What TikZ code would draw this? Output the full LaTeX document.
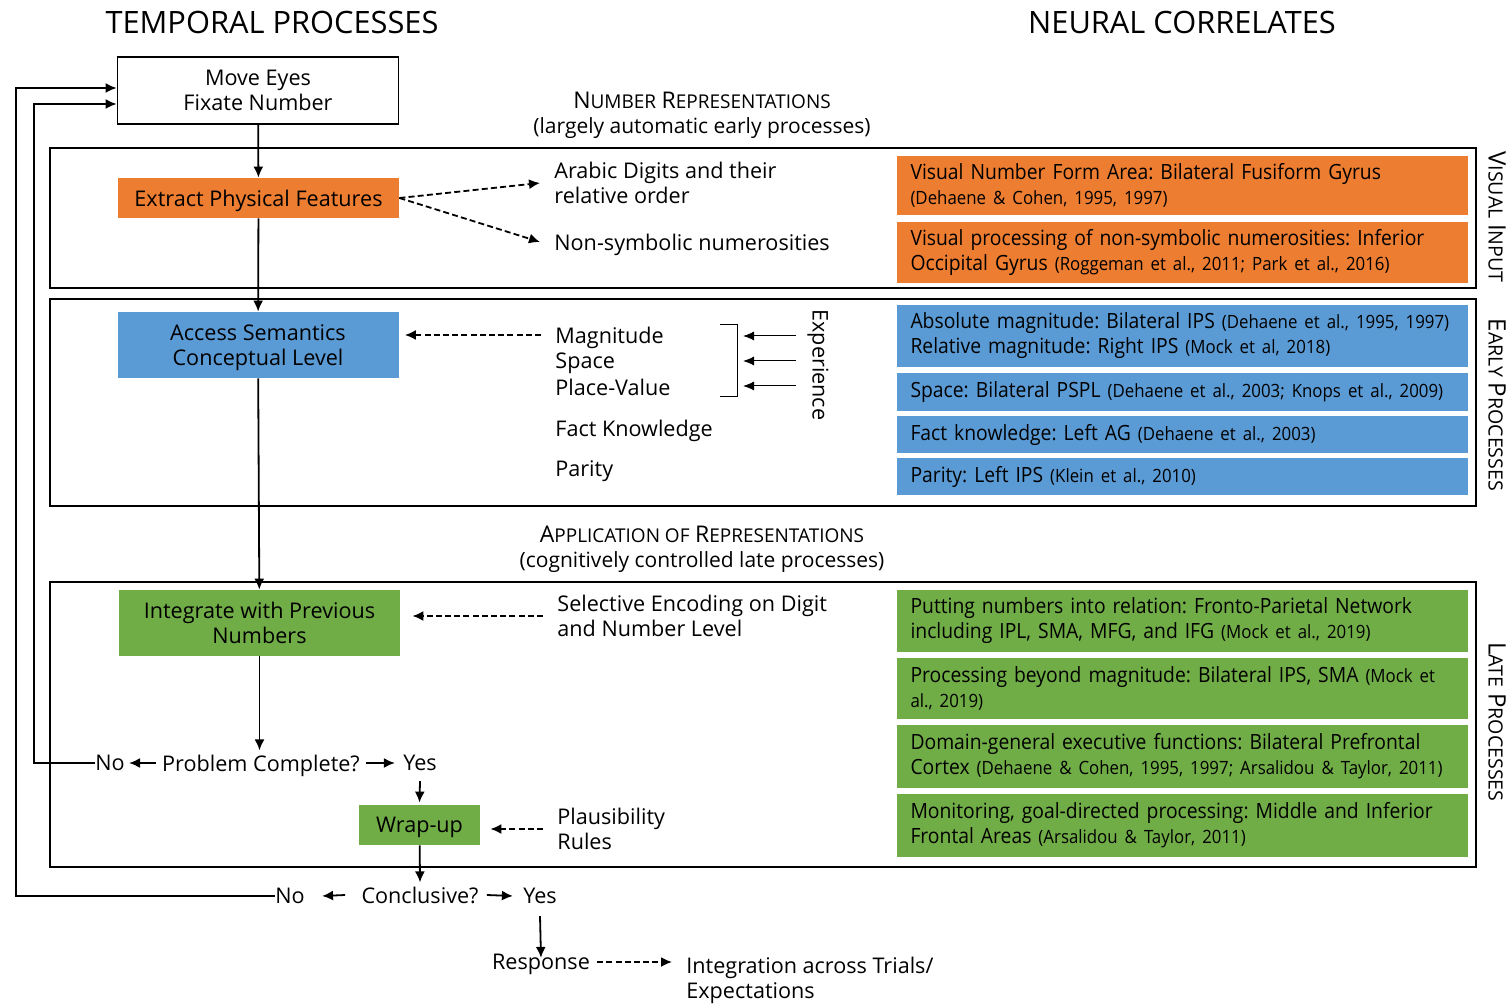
\documentclass[tikz,border=0pt]{standalone}
\usepackage{fontspec}
\setmainfont{Open Sans}
\newfontfamily\boxfont{Open Sans}[FakeStretch=0.92]
\usetikzlibrary{arrows.meta,calc}
\definecolor{org}{HTML}{ED7D31}
\definecolor{blu}{HTML}{5B9BD5}
\definecolor{grn}{HTML}{70AD47}
\newcommand\mysc[2]{{\fontsize{11.5}{13}\selectfont #1}{\fontsize{9.5}{13}\selectfont #2}}
\newcommand\sidesc[2]{{\fontsize{12}{13}\selectfont #1}{\fontsize{9.8}{13}\selectfont #2}}
\newcommand\cit[1]{{\fontsize{9.15}{12.5}\selectfont #1}}
\frenchspacing
\begin{document}
\begin{tikzpicture}[x=0.5pt,y=-0.5pt,
  every node/.style={font=\fontsize{10.8}{12.5}\selectfont, inner sep=0pt, text depth=0pt},
  arr/.style={-{Latex[length=5.5pt,width=5pt]}, line width=0.9pt},
  darr/.style={arr, dash pattern=on 3pt off 1.6pt},
  tarr/.style={-{Latex[length=5.5pt,width=4.5pt]}, line width=0.5pt},
  panel/.style={draw, line width=0.9pt},
  proc/.style={align=center, minimum width=140.5pt},
  corr/.style={text width=271.5pt, inner xsep=7pt, inner ysep=0pt, align=left, text depth=,
    font={\boxfont\fontsize{10.5}{12.5}\selectfont\frenchspacing\hyphenpenalty=10000}},
  lbl/.style={anchor=west, align=left},
  side/.style={rotate=-90, text depth=}
]
\useasboundingbox (0,0) rectangle (1508,1004);
\fill[white] (0,0) rectangle (1508,1004);

% titles
\node[font=\fontsize{15.4}{17}\selectfont] (t1) at (272,22) {TEMPORAL PROCESSES};
\node[font=\fontsize{15.4}{17}\selectfont] (t2) at (1182,22) {NEURAL CORRELATES};

% section headings
\node[align=center, font=\fontsize{10.5}{12.5}\selectfont] (h1) at (702,113) {\mysc{N}{UMBER} \mysc{R}{EPRESENTATIONS}\\(largely automatic early processes)};
\node[align=center, font=\fontsize{10.5}{12.5}\selectfont] (h2) at (702,547) {\mysc{A}{PPLICATION OF} \mysc{R}{EPRESENTATIONS}\\(cognitively controlled late processes)};

% panels
\draw[panel] (50,148) rectangle (1476,288);
\draw[panel] (50,299) rectangle (1476,506);
\draw[panel] (50,582) rectangle (1476,867);

% process boxes
\node[proc, draw, line width=0.9pt, fill=white, minimum height=33.5pt] (move) at (258,90.5) {Move Eyes\\Fixate Number};
\node[proc, fill=org, minimum height=20pt] (extract) at (258.5,198) {Extract Physical Features};
\node[proc, fill=blu, minimum height=33pt] (access) at (258,345) {Access Semantics\\Conceptual Level};
\node[proc, fill=grn, minimum height=33pt] (integ) at (259.5,623) {Integrate with Previous\\Numbers};
\node[fill=grn, minimum width=60.5pt, minimum height=20pt] (wrap) at (419.5,825) {Wrap-up};

% decision rows
\node (pcno) at (110,763) {No};
\node (pc) at (261,763) {Problem Complete?};
\node (pcyes) at (420,763) {Yes};
\node (cno) at (290,896) {No};
\node (conc) at (420,895) {Conclusive?};
\node (cyes) at (540,896) {Yes};
\node (resp) at (541,962) {Response};
\node[lbl, anchor=north west] (integr) at (686,957) {Integration across Trials/\\Expectations};

% middle labels
\node[lbl] (arabic) at (554,183) {Arabic Digits and their\\relative order};
\node[lbl] (nonsym) at (554,242) {Non-symbolic numerosities};
\node[lbl] (magn) at (555,335) {Magnitude};
\node[lbl] (space) at (555,361) {Space};
\node[lbl] (place) at (555,387) {Place-Value};
\node[lbl] (fact) at (555,428) {Fact Knowledge};
\node[lbl] (parity) at (555,469) {Parity};
\node[side] (exp) at (818,365) {Experience};
\node[lbl] (selenc) at (557,616) {Selective Encoding on Digit\\and Number Level};
\node[lbl] (plaus) at (557,829) {Plausibility\\Rules};

% experience bracket and arrows
\draw[line width=0.5pt] (720,325) -- (737,325) -- (737,397) -- (720,397);
\coordinate (e1) at (796,336);
\coordinate (e2) at (796,361);
\coordinate (e3) at (796,386);
\draw[tarr] (e1) -- (743,336);
\draw[tarr] (e2) -- (743,361);
\draw[tarr] (e3) -- (743,386);

% neural correlates
\node[corr, fill=org, minimum height=29.5pt] (o1) at (1182,185.5) {Visual Number Form Area: Bilateral Fusiform Gyrus\\\cit{(Dehaene \& Cohen, 1995, 1997)}};
\node[corr, fill=org, minimum height=30.5pt] (o2) at (1182,252.5) {Visual processing of non-symbolic numerosities: Inferior\\Occipital Gyrus \cit{(Roggeman et al., 2011; Park et al., 2016)}};
\node[corr, fill=blu, minimum height=31pt] (b1) at (1182,336) {\mbox{Absolute magnitude: Bilateral IPS \cit{(Dehaene et al., 1995, 1997)}}\\Relative magnitude: Right IPS \cit{(Mock et al, 2018)}};
\node[corr, fill=blu, minimum height=19pt] (b2) at (1182,392) {\mbox{Space: Bilateral PSPL \cit{(Dehaene et al., 2003; Knops et al., 2009)}}};
\node[corr, fill=blu, minimum height=18.5pt] (b3) at (1182,434.5) {Fact knowledge: Left AG \cit{(Dehaene et al., 2003)}};
\node[corr, fill=blu, minimum height=18.5pt] (b4) at (1182,476.5) {Parity: Left IPS \cit{(Klein et al., 2010)}};
\node[corr, fill=grn, minimum height=31pt] (g1) at (1182,621) {Putting numbers into relation: Fronto-Parietal Network\\including IPL, SMA, MFG, and IFG \cit{(Mock et al., 2019)}};
\node[corr, fill=grn, minimum height=30.5pt] (g2) at (1182,688.5) {Processing beyond magnitude: Bilateral IPS, SMA \cit{(Mock et}\\\cit{al., 2019)}};
\node[corr, fill=grn, minimum height=31.5pt] (g3) at (1182,756.5) {Domain-general executive functions: Bilateral Prefrontal\\\mbox{Cortex \cit{(Dehaene \& Cohen, 1995, 1997; Arsalidou \& Taylor, 2011)}}};
\node[corr, fill=grn, minimum height=31.5pt] (g4) at (1182,825.5) {Monitoring, goal-directed processing: Middle and Inferior\\Frontal Areas \cit{(Arsalidou \& Taylor, 2011)}};

% side labels
\node[side] (s1) at (1497,217) {\sidesc{V}{ISUAL} \sidesc{I}{NPUT}};
\node[side] (s2) at (1497,405) {\sidesc{E}{ARLY} \sidesc{P}{ROCESSES}};
\node[side] (s3) at (1497,722) {\sidesc{L}{ATE} \sidesc{P}{ROCESSES}};

% main flow
\draw[arr] (move) -- (extract);
\draw[arr] (extract) -- (access);
\draw[arr] (access) -- (integ);
\draw[arr] (integ) -- ([yshift=2pt]pc.north -| integ.south);
\draw[arr] ([xshift=-3pt]pc.west) -- ([xshift=2pt]pcno.east);
\draw[arr] ([xshift=3pt]pc.east) -- ([xshift=-4pt]pcyes.west);
\draw[arr] ([yshift=-5pt]pcyes.south) -- ([yshift=1pt]wrap.north);
\draw[arr] (wrap) -- ([yshift=2pt]conc.north);
\draw[arr] ([xshift=-8pt]conc.west) -- ([xshift=8.5pt]cno.east);
\draw[arr] ([xshift=4pt]conc.east) -- ([xshift=-5pt]cyes.west);
\draw[arr] ([yshift=-6pt]cyes.south) -- ([yshift=-2pt]resp.north);
\draw[darr] ([xshift=3.5pt]resp.east) -- ([xshift=-7pt]integr.west |- resp.east);

% feedback loops
\draw[arr] (pcno.west) -| (34,104) -- (move.west |- 0,104);
\draw[arr] (cno.west) -| (16,88) -- (move.west |- 0,88);

% dashed inputs
\draw[darr] (extract.east) -- ([xshift=-7pt]arabic.west);
\draw[darr] (extract.east) -- ([xshift=-7pt]nonsym.west);
\draw[darr] ([xshift=-7pt]magn.west) -- ([xshift=3pt]magn.west -| access.east);
\draw[darr] ([xshift=-7pt]selenc.west) -- ([xshift=6pt]selenc.west -| integ.east);
\draw[darr] ([xshift=-7pt]plaus.west) -- ([xshift=5pt]plaus.west -| wrap.east);
\end{tikzpicture}
\end{document}
